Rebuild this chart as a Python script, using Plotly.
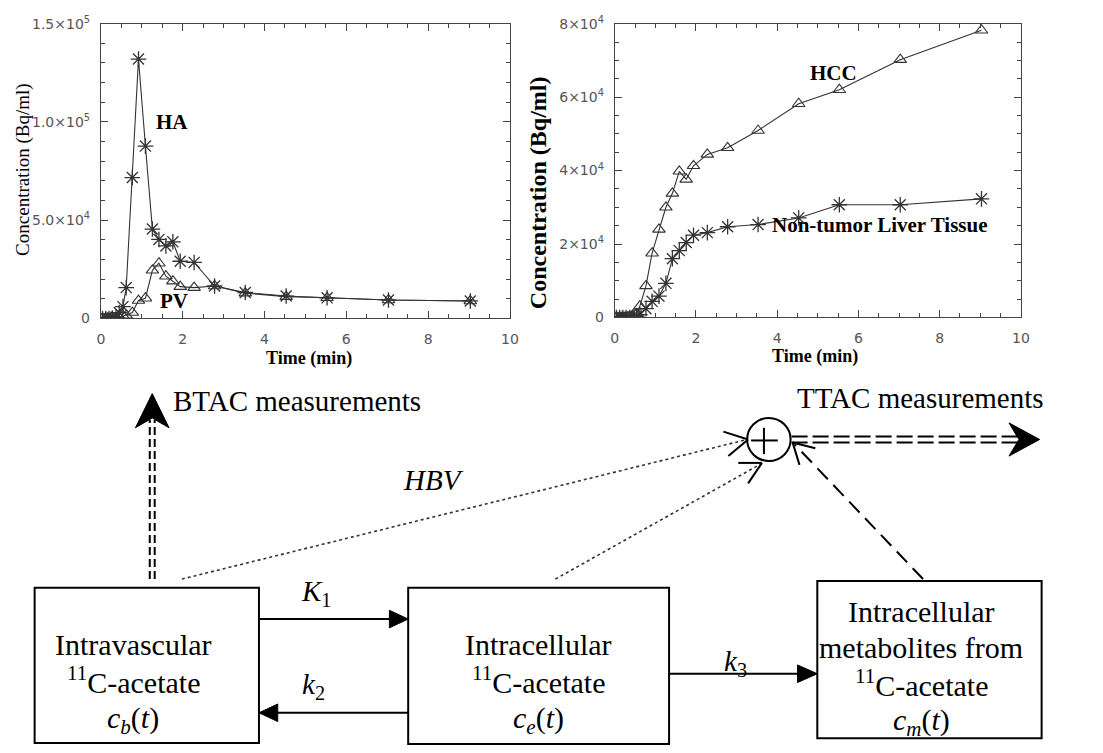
import plotly.graph_objects as go

# ---- time-activity data (time in min, concentration in Bq/ml) ----
time_min = [0.04, 0.12, 0.20, 0.28, 0.37, 0.45, 0.54, 0.62, 0.77, 0.92, 1.09, 1.26,
            1.42, 1.59, 1.76, 1.94, 2.28, 2.78, 3.53, 4.53, 5.53, 7.03, 9.03]

ha_conc = [0, 0, 0, 200, 600, 3000, 6000, 15700, 71700, 132000, 87700, 45500,
           40200, 36900, 39000, 29100, 28500, 16500, 13200, 11400, 10500, 9400, 8900]
pv_conc = [0, 0, 0, 0, 0, 500, 1300, 1600, 3000, 9100, 10300, 24500,
           28100, 21500, 19000, 16200, 15700, 16500, 12900, 11100, 10500, 9400, 8900]

hcc_conc = [0, 0, 0, 0, 200, 400, 1000, 3100, 8600, 17500, 24000, 30000,
            33800, 39800, 37600, 41300, 44400, 46200, 50900, 58200, 62000, 70200, 78200]
liver_conc = [0, 0, 0, 0, 0, 200, 400, 800, 2400, 4400, 5800, 9300,
              16000, 18200, 20400, 22400, 23100, 24700, 25300, 27100, 30700, 30700, 32300]

left_yticks = [0, 50000, 100000, 150000]
left_ytext = ["0", "5.0×10<sup>4</sup>", "1.0×10<sup>5</sup>", "1.5×10<sup>5</sup>"]
right_yticks = [0, 20000, 40000, 60000, 80000]
right_ytext = ["0", "2×10<sup>4</sup>", "4×10<sup>4</sup>", "6×10<sup>4</sup>", "8×10<sup>4</sup>"]
xticks = [0, 2, 4, 6, 8, 10]

W, H = 1103, 753
SERIF = "Liberation Serif"
TICKFONT = dict(family="DejaVu Sans", size=14, color="#555")
LINE = "#333"


def px_dom(a, b, total):
    return [a / total, b / total]


def py_dom(top, bottom):
    return [1 - bottom / H, 1 - top / H]


fig = go.Figure()

ast = dict(symbol="asterisk-open", size=13, line=dict(width=1.3, color="black"))
tri = dict(symbol="triangle-up-open", size=11, line=dict(width=1.1, color="#222"))

fig.add_trace(go.Scatter(x=time_min, y=pv_conc, mode="lines+markers", marker=tri,
                         line=dict(color=LINE, width=1.1), xaxis="x", yaxis="y"))
fig.add_trace(go.Scatter(x=time_min, y=ha_conc, mode="lines+markers", marker=ast,
                         line=dict(color=LINE, width=1.1), xaxis="x", yaxis="y"))
fig.add_trace(go.Scatter(x=time_min, y=hcc_conc, mode="lines+markers", marker=tri,
                         line=dict(color=LINE, width=1.1), xaxis="x2", yaxis="y2"))
fig.add_trace(go.Scatter(x=time_min, y=liver_conc, mode="lines+markers", marker=ast,
                         line=dict(color=LINE, width=1.1), xaxis="x2", yaxis="y2"))

axis_common = dict(showgrid=False, zeroline=False, showline=True, linecolor="#444",
                   linewidth=1, mirror="allticks", ticks="inside", ticklen=7,
                   tickcolor="#444", tickfont=TICKFONT, fixedrange=True)

xcommon = dict(axis_common, range=[0, 10], tickvals=xticks, ticklabelstandoff=8,
               minor=dict(ticks="inside", ticklen=4, dtick=0.5, tickcolor="#444"))

fig.update_layout(
    width=W, height=H, margin=dict(l=0, r=0, t=0, b=0),
    paper_bgcolor="white", plot_bgcolor="rgba(0,0,0,0)", showlegend=False,
    xaxis=dict(xcommon, domain=px_dom(98, 512, W), anchor="y"),
    yaxis=dict(axis_common, domain=py_dom(14, 316), anchor="x", range=[0, 150000],
               tickvals=left_yticks, ticktext=left_ytext, ticklabelstandoff=7,
               minor=dict(ticks="inside", ticklen=4, dtick=10000, tickcolor="#444")),
    xaxis2=dict(xcommon, domain=px_dom(618, 1029, W), anchor="y2"),
    yaxis2=dict(axis_common, domain=py_dom(14, 315), anchor="x2", range=[0, 80000],
                tickvals=right_yticks, ticktext=right_ytext, ticklabelstandoff=7,
                minor=dict(ticks="inside", ticklen=4, dtick=5000, tickcolor="#444")),
    # pixel-space frame for the compartment diagram
    xaxis3=dict(domain=[0, 1], range=[0, W], visible=False, fixedrange=True, anchor="y3"),
    yaxis3=dict(domain=[0, 1], range=[H, 0], visible=False, fixedrange=True, anchor="x3"),
)

ann = []


def text(x, y, s, size=30, ref="3", **kw):
    ann.append(dict(x=x, y=y, xref="x" + ref if ref else "x", yref="y" + ref if ref else "y",
                    text=s, showarrow=False, xanchor="center", yanchor="middle",
                    font=dict(family=SERIF, size=size, color="black"), **kw))


# plot labels
text(1.74, 100000, "<b>HA</b>", size=21, ref="")
text(1.79, 8900, "<b>PV</b>", size=21, ref="")
text(5.38, 66700, "<b>HCC</b>", size=21, ref="2")
text(6.52, 25100, "<b>Non-tumor Liver Tissue</b>", size=21, ref="2")

# axis titles
text(19, 163, "Concentration (Bq/ml)", size=19, textangle=-90)
text(540, 187, "<b>Concentration (Bq/ml)</b>", size=24, textangle=-90)
text(309, 357, "<b>Time (min)</b>", size=18)
text(821, 355, "<b>Time (min)</b>", size=18)

# diagram texts
text(296, 401, "BTAC measurements", size=29)
text(927, 397, "TTAC measurements", size=29)
text(435, 481, "<i>HBV</i>", size=29)
text(316, 597, "<i>K</i><sub>1</sub>", size=29)
text(313, 693, "<i>k</i><sub>2</sub>", size=29)
text(740, 669, "<i>k</i><sub>3</sub>", size=29)

text(131, 650, "Intravascular")
text(131, 686, "<sup>11</sup>C-acetate")
text(131, 727, "<i>c<sub>b</sub></i>(<i>t</i>)")
text(541, 650, "Intracellular")
text(541, 686, "<sup>11</sup>C-acetate")
text(541, 727, "<i>c<sub>e</sub></i>(<i>t</i>)")
text(928, 616, "Intracellular")
text(928, 653, "metabolites from")
text(928, 689, "<sup>11</sup>C-acetate")
text(928, 729, "<i>c<sub>m</sub></i>(<i>t</i>)")

shapes = []


def shp(**kw):
    d = dict(xref="x3", yref="y3", layer="above")
    d.update(kw)
    shapes.append(d)


def seg(x0, y0, x1, y1, width=2, dash="solid", color="black"):
    shp(type="line", x0=x0, y0=y0, x1=x1, y1=y1, line=dict(color=color, width=width, dash=dash))


def poly(pts, fill="black"):
    path = "M " + " L ".join(f"{x},{y}" for x, y in pts) + " Z"
    shp(type="path", path=path, fillcolor=fill, line=dict(color=fill, width=1))


# compartments
for x0, y0, x1, y1 in [(31, 592, 258, 751), (409, 592, 673, 752), (823, 585, 1050, 746)]:
    shp(type="rect", x0=x0, y0=y0, x1=x1, y1=y1, line=dict(color="black", width=2))

# rate arrows
seg(258, 624, 395, 624)
poly([(409, 624), (390, 615), (390, 633)])
seg(409, 720, 272, 720)
poly([(258, 720), (277, 711), (277, 729)])
seg(673, 680, 808, 680)
poly([(823, 680), (803, 671), (803, 689)])

# BTAC double dashed arrow
seg(147.5, 583, 147.5, 420, dash="8px,4px")
seg(152.5, 583, 152.5, 420, dash="8px,4px")
poly([(150, 393), (133, 428), (150, 418), (167, 428)])

# TTAC double dashed arrow
seg(797, 437, 1030, 437, dash="16px,5px")
seg(797, 443, 1030, 443, dash="16px,5px")
poly([(1048, 440), (1017, 423), (1027, 440), (1017, 457)])

# summing junction
shp(type="circle", x0=752, y0=418, x1=796, y1=462, line=dict(color="black", width=2))
seg(756, 441, 783, 441)
seg(769, 428, 769, 455)

# HBV path
seg(180, 583, 752, 440, width=1.6, dash="dot", color="#333")
seg(728, 432, 753, 440)
seg(733, 457, 753, 440)
# intracellular path
seg(558, 583, 766, 465, width=1.6, dash="dot", color="#333")
seg(743, 464, 767, 464)
seg(753, 485, 767, 464)
# metabolites path
seg(930, 583, 800, 445, width=2, dash="15px,8px")
seg(821, 449, 798, 443)
seg(805, 466, 798, 443)

fig.update_layout(annotations=ann, shapes=shapes)
fig.write_html("out.html")
